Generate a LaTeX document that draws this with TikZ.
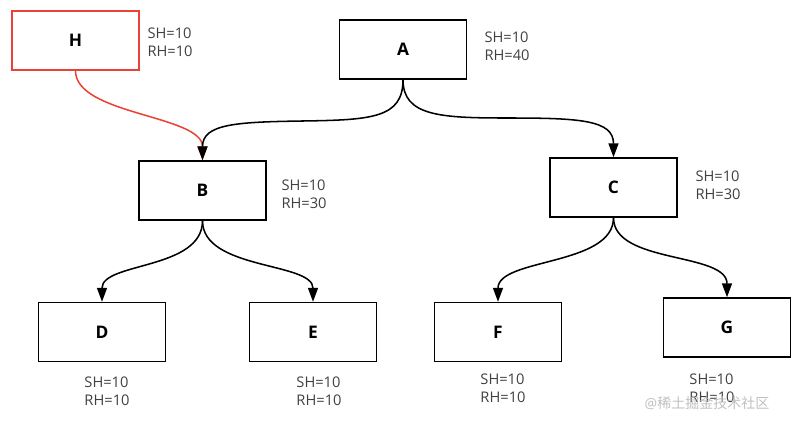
\documentclass[tikz,border=0pt]{standalone}
\usepackage{fontspec}
\setmainfont{Open Sans}
\newfontfamily\cjk{Noto Sans CJK SC}
\usetikzlibrary{arrows.meta}
\definecolor{edgered}{RGB}{234,67,53}
\definecolor{infogray}{RGB}{64,64,64}
\definecolor{markgray}{RGB}{185,185,185}
\tikzset{every picture/.style={line width=0.75pt}}

\begin{document}
\begin{tikzpicture}[x=0.75pt,y=0.75pt,yscale=-1,xscale=1,
  treenode/.style={draw, line width=1.1pt, minimum width=95.25pt, minimum height=44.25pt, inner sep=0pt, font=\fontsize{13}{15}\selectfont\bfseries},
  info/.style={text=infogray, align=left, inner sep=0pt, font=\fontsize{11}{13.5}\selectfont},
  edge/.style={line width=1.15pt, -{Triangle[length=10.5pt,width=7.5pt]}}]
\path[use as bounding box] (0,0) rectangle (797,426);

%Shape: Rectangle
\node[treenode, draw=edgered] (H) at (75.5,40.5) {H};
\node[treenode] (A) at (403,49.5) {A};
\node[treenode] (B) at (202.5,190.5) {B};
\node[treenode] (C) at (613.5,187.5) {C};
\node[treenode] (D) at (102,332) {D};
\node[treenode] (E) at (313,332) {E};
\node[treenode] (F) at (498,332) {F};
\node[treenode] (G) at (727,327.5) {G};

% Text Node
\node[info, anchor=west] (infoH) at (147,42) {SH=10\\RH=10};
\node[info, anchor=west] (infoA) at (484,46.7) {SH=10\\RH=40};
\node[info, anchor=west] (infoB) at (281,194) {SH=10\\RH=30};
\node[info, anchor=west] (infoC) at (695,185) {SH=10\\RH=30};
\node[info] (infoD) at (107,391) {SH=10\\RH=10};
\node[info] (infoE) at (319,391) {SH=10\\RH=10};
\node[info] (infoF) at (503,388.3) {SH=10\\RH=10};
\node[info] (infoG) at (712,388) {SH=10\\RH=10};

%Curve Lines
\draw[edge, color=edgered] (H.south) .. controls (75.5,115) and (202.5,115) .. (B.north);
\draw[edge] (A.south) .. controls (403,118) and (372,120) .. (302,121) .. controls (236,122) and (202.5,124) .. (B.north);
\draw[edge] (A.south) .. controls (403,116) and (440,118) .. (508,118) .. controls (580,118) and (613.5,120) .. (C.north);
\draw[edge] (B.south) .. controls (202.5,270) and (102,262) .. (D.north);
\draw[edge] (B.south) .. controls (202.5,270) and (313,262) .. (E.north);
\draw[edge] (C.south) .. controls (613.5,266) and (498,258) .. (F.north);
\draw[edge] (C.south) .. controls (613.5,264) and (727,252) .. (G.north);

% Text Node
\node[text=markgray, opacity=0.9, inner sep=0pt, font=\fontsize{10.5}{12}\selectfont] (mark) at (707,403) {@\cjk 稀土掘金技术社区};

\end{tikzpicture}
\end{document}
